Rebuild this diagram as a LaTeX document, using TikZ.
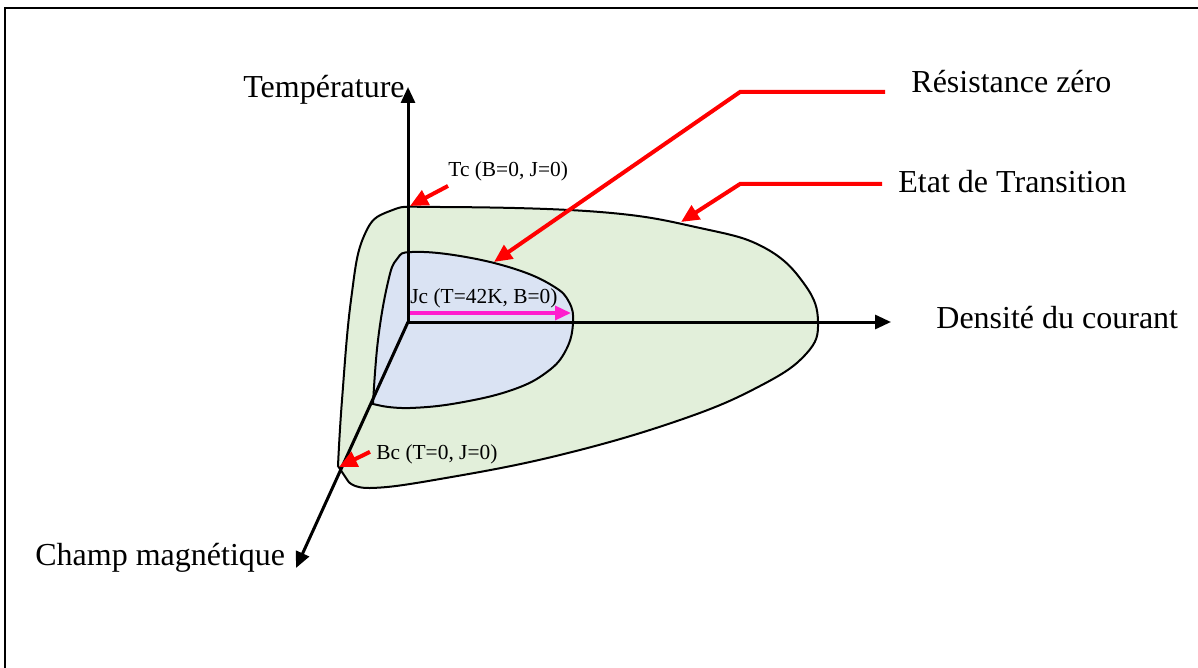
\documentclass[tikz,border=0pt]{standalone}
\usepackage{fontspec}
\setmainfont{Liberation Serif}
\usepackage{xcolor}
\definecolor{transgreen}{HTML}{E2EFDA}
\definecolor{zeroblue}{HTML}{DAE3F3}
\definecolor{jcmagenta}{HTML}{FF1DCE}
\usetikzlibrary{arrows.meta,positioning}

\tikzset{
  axis/.style={line width=1.5pt, -{Triangle[length=8pt,width=7pt]}},
  redarrow/.style={red, line width=2pt, -{Triangle[length=9pt,width=8pt]}},
  biglabel/.style={font=\fontsize{16}{19}\selectfont, inner sep=0pt, anchor=base west},
  smalllabel/.style={font=\fontsize{10.7}{12}\selectfont, inner sep=0pt, anchor=base west},
  region/.style={draw=black, line width=1pt}
}

\begin{document}
\begin{tikzpicture}[x=0.5pt, y=-0.5pt]
  \useasboundingbox (0,0) rectangle (1198,668);
  % frame
  \draw[line width=1pt] (5,668) -- (5,8) -- (1198,8);

  % state regions
  \filldraw[region, fill=transgreen] plot[smooth, tension=0.7] coordinates {
    (338,466) (342,400) (351,300) (364,236) (390,211) (440,207) (600,212)
    (700,228) (765,248) (805,285) (818,322) (806,354) (760,386) (680,420)
    (560,455) (440,479) (370,488) (348,481)} -- cycle;
  \filldraw[region, fill=zeroblue] plot[smooth, tension=0.7] coordinates {
    (373,404) (378,340) (388,282) (397,259) (412,252) (460,256) (515,269)
    (553,286) (569,302) (573,323) (566,350) (547,372) (512,390) (458,403)
    (410,408) (382,406)} -- cycle;

  % axes
  \coordinate (O) at (408,322);
  \coordinate (Ttip) at (408,87);
  \coordinate (Jtip) at (891,322);
  \coordinate (Btip) at (296,568);
  \draw[axis] (O) -- (Ttip);
  \draw[axis] (O) -- (Jtip);
  \draw[axis] (O) -- (Btip);

  \node[biglabel] (tlbl) at (243,98) {Température};
  \node[biglabel] (jlbl) at (936,328) {Densité du courant};
  \node[biglabel] (blbl) at (35,565) {Champ magnétique};

  % Jc
  \coordinate (jcstart) at (410,313);
  \coordinate (jc) at (571,313);
  \draw[jcmagenta, line width=1.7pt, -{Triangle[length=8pt,width=7pt]}] (jcstart) -- (jc);
  \node[smalllabel] (jclbl) at (410,303) {Jc (T=42K, B=0)};

  % Tc and Bc
  \coordinate (tc) at (410,206);
  \coordinate (bc) at (339,467);
  \node[smalllabel] (tclbl) at (448,177) {Tc (B=0, J=0)};
  \node[smalllabel] (bclbl) at (376,459) {Bc (T=0, J=0)};
  \draw[redarrow] ([shift={(0pt,-2pt)}]tclbl.south west) -- (tc);
  \draw[redarrow] ([shift={(-3pt,1pt)}]bclbl.west) -- (bc);

  % zero resistance and transition
  \node[biglabel] (rzlbl) at (911,93) {Résistance zéro};
  \node[biglabel] (etlbl) at (898,193) {Etat de Transition};
  \coordinate (rzbend) at (740,92);
  \coordinate (rz) at (494,262);
  \coordinate (etbend) at (740,184);
  \coordinate (et) at (681,222);
  \draw[redarrow] ([xshift=-13pt]rzlbl.west |- rzbend) -- (rzbend) -- (rz);
  \draw[redarrow] ([xshift=-8pt]etlbl.west |- etbend) -- (etbend) -- (et);
\end{tikzpicture}
\end{document}
